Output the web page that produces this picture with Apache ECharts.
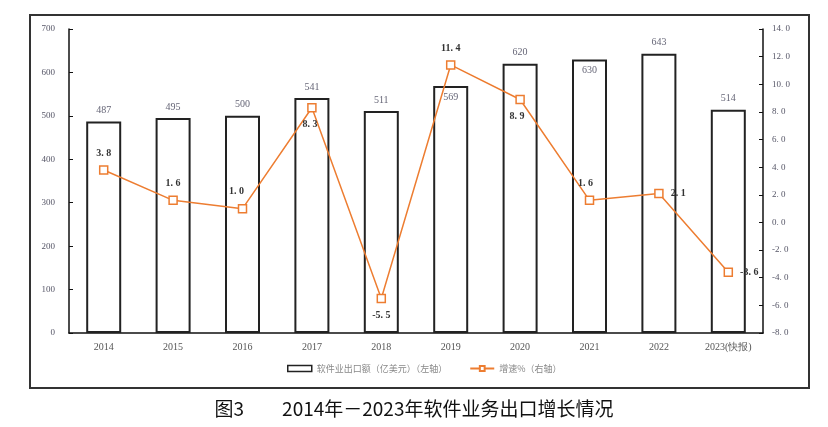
<!DOCTYPE html>
<html><head><meta charset="utf-8">
<script src="https://cdn.jsdelivr.net/npm/echarts@6/dist/echarts.min.js"></script>
<style>html,body{margin:0;padding:0;background:#fff}#c{width:828px;height:427px}</style>
</head><body><div id="c"></div>
<script>
var categories = ['2014','2015','2016','2017','2018','2019','2020','2021','2022','2023(快报)'];
var exportValues = [487, 495, 500, 541, 511, 569, 620, 630, 643, 514];
var growthValues = [3.8, 1.6, 1.0, 8.3, -5.5, 11.4, 8.9, 1.6, 2.1, -3.6];
var barLabelPos = ['top','top','top','top','top','insideTop','top','insideTop','top','top'];
var lineLabelPos = ['top','top','top','bottom','bottom','top','bottom','top','right','right'];
var lineLabelOffset = [[0,0],[0,0],[-6,0],[-2,0],[0,0],[0,0],[-3,0],[-4,0],[0,0],[0,0]];

var serif = 'Liberation Serif, DejaVu Serif, serif';
var fmtDot = function (v) { return Number(v).toFixed(1).replace('.', '. '); };

var chart = echarts.init(document.getElementById('c'));
chart.setOption({
  animation: false,
  grid: { left: 69, right: 65, top: 29, bottom: 94 },
  legend: {
    top: 359, left: 282, itemGap: 22, itemWidth: 24, itemHeight: 6,
    textStyle: { color: '#888', fontSize: 9, fontFamily: 'Noto Sans CJK SC' },
    data: [
      { name: '软件业出口额（亿美元）（左轴）', icon: 'rect', itemStyle: { color: '#fff', borderColor: '#222', borderWidth: 1.5 } },
      { name: '增速%（右轴）' }
    ]
  },
  xAxis: {
    type: 'category', data: categories,
    axisLine: { lineStyle: { color: '#111', width: 1.5 } },
    axisTick: { show: false },
    axisLabel: { color: '#555', fontSize: 10, fontFamily: serif, margin: 9 }
  },
  yAxis: [
    { type: 'value', min: 0, max: 700, interval: 100, position: 'left',
      splitLine: { show: false },
      axisLine: { show: true, lineStyle: { color: '#111', width: 1.5 } },
      axisTick: { show: true, inside: true, length: 4, lineStyle: { color: '#111' } },
      axisLabel: { color: '#556', fontSize: 9, fontFamily: serif, margin: 14 } },
    { type: 'value', min: -8, max: 14, interval: 2, position: 'right',
      splitLine: { show: false },
      axisLine: { show: true, lineStyle: { color: '#111', width: 1.5 } },
      axisTick: { show: true, inside: true, length: 4, lineStyle: { color: '#111' } },
      axisLabel: { color: '#556', fontSize: 9, fontFamily: serif, margin: 9, formatter: fmtDot } }
  ],
  series: [
    { name: '软件业出口额（亿美元）（左轴）', type: 'bar', yAxisIndex: 0, barWidth: 35,
      itemStyle: { color: '#fff', borderColor: '#222', borderWidth: 2 },
      label: { show: true, color: '#667', fontSize: 10, fontFamily: serif, distance: 6 },
      data: exportValues.map(function (v, i) {
        return { value: v, label: { position: barLabelPos[i] } };
      }) },
    { name: '增速%（右轴）', type: 'line', yAxisIndex: 1,
      symbol: 'rect', symbolSize: 8,
      lineStyle: { color: '#ED7D31', width: 1.5 },
      itemStyle: { color: '#fff', borderColor: '#ED7D31', borderWidth: 1.5 },
      label: { show: true, color: '#333', fontWeight: 'bold', fontSize: 10, fontFamily: serif, distance: 7, formatter: function (p) { return fmtDot(p.value); } },
      data: growthValues.map(function (v, i) {
        return { value: v, label: { position: lineLabelPos[i], offset: lineLabelOffset[i] } };
      }) }
  ],
  graphic: [
    { type: 'rect', shape: { x: 30, y: 15, width: 779, height: 373 }, style: { fill: 'none', stroke: '#333', lineWidth: 2 }, silent: true },
    { type: 'text', left: 'center', top: 399, style: { text: '图3　　2014年－2023年软件业务出口增长情况', fontSize: 19, fill: '#111', fontFamily: 'Noto Sans CJK SC' } }
  ]
});
</script>
</body></html>
